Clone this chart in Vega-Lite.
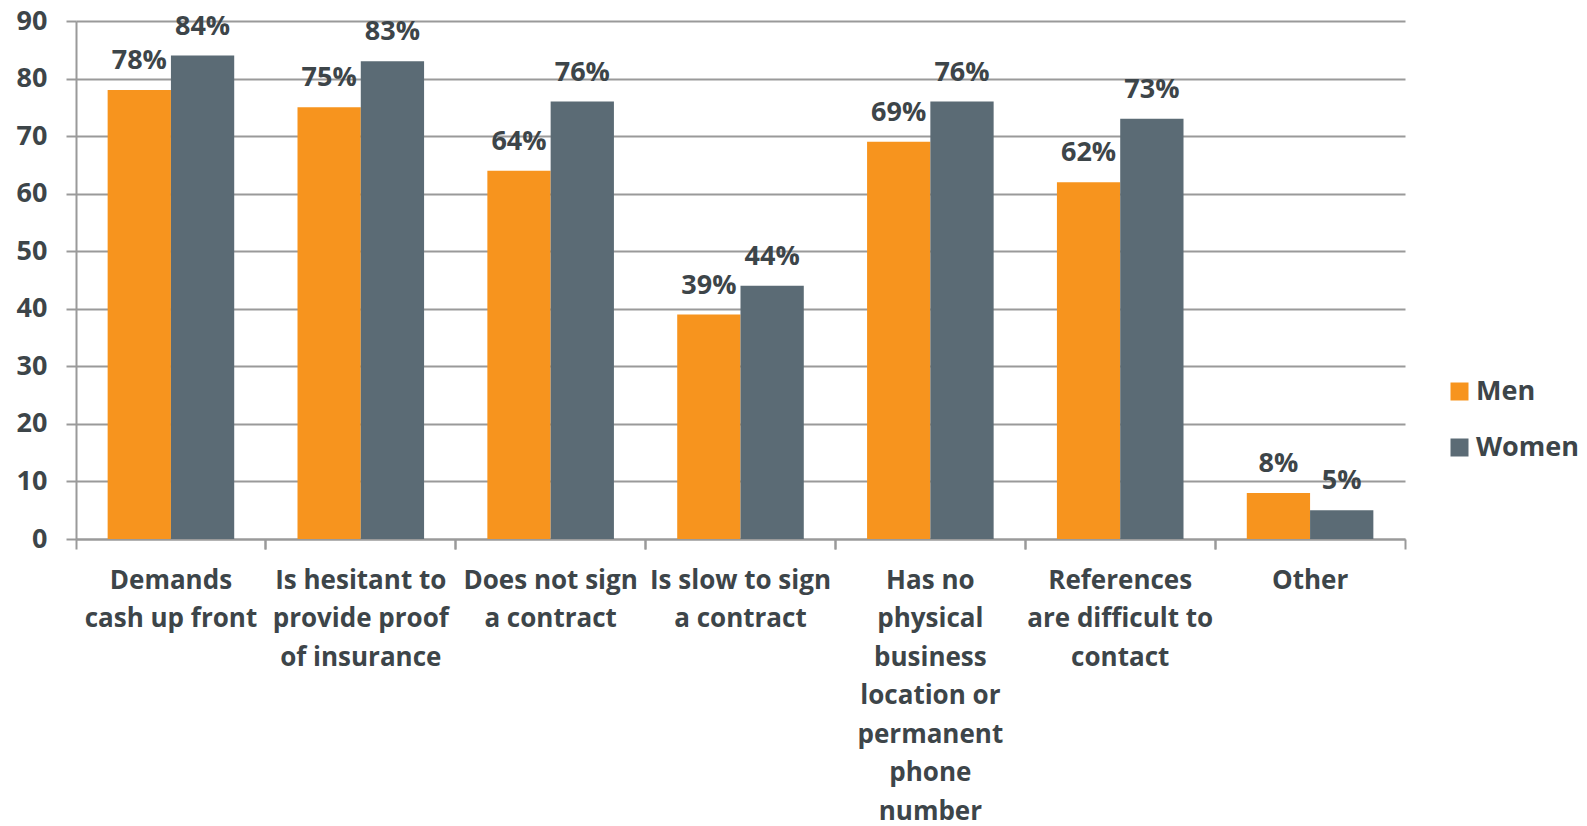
{
  "$schema": "https://vega.github.io/schema/vega-lite/v6.json",
  "width": 1329,
  "height": 518,
  "autosize": "none",
  "padding": {"left": 76, "top": 21, "right": 182, "bottom": 287},
  "background": "white",
  "config": {
    "font": "Open Sans",
    "view": {"stroke": null},
    "axis": {"labelFont": "Open Sans", "labelFontWeight": "bold", "labelColor": "#3d4549"}
  },
  "data": {
    "values": [
      {"category": "Demands|cash up front", "series": "Men", "value": 78},
      {"category": "Demands|cash up front", "series": "Women", "value": 84},
      {"category": "Is hesitant to|provide proof|of insurance", "series": "Men", "value": 75},
      {"category": "Is hesitant to|provide proof|of insurance", "series": "Women", "value": 83},
      {"category": "Does not sign|a contract", "series": "Men", "value": 64},
      {"category": "Does not sign|a contract", "series": "Women", "value": 76},
      {"category": "Is slow to sign|a contract", "series": "Men", "value": 39},
      {"category": "Is slow to sign|a contract", "series": "Women", "value": 44},
      {"category": "Has no|physical|business|location or|permanent|phone|number", "series": "Men", "value": 69},
      {"category": "Has no|physical|business|location or|permanent|phone|number", "series": "Women", "value": 76},
      {"category": "References|are difficult to|contact", "series": "Men", "value": 62},
      {"category": "References|are difficult to|contact", "series": "Women", "value": 73},
      {"category": "Other", "series": "Men", "value": 8},
      {"category": "Other", "series": "Women", "value": 5}
    ]
  },
  "encoding": {
    "x": {
      "field": "category",
      "type": "nominal",
      "sort": null,
      "scale": {"paddingInner": 0, "paddingOuter": 0}
    },
    "xOffset": {
      "field": "series",
      "type": "nominal",
      "scale": {"paddingInner": 0, "paddingOuter": 0.5}
    },
    "y": {
      "field": "value",
      "type": "quantitative",
      "scale": {"domain": [0, 90]}
    }
  },
  "layer": [
    {
      "mark": {"type": "bar"},
      "encoding": {
        "x": {
          "field": "category",
          "type": "nominal",
          "sort": null,
          "title": null,
          "axis": {
            "orient": "bottom",
            "bandPosition": 0,
            "labelExpr": "split(datum.label, '|')",
            "labelAngle": 0,
            "labelAlign": "center",
            "labelBaseline": "top",
            "labelFontSize": 26,
            "labelLineHeight": 38.5,
            "labelPadding": 18,
            "labelOverlap": false,
            "labelBound": false,
            "labelLimit": 0,
            "tickSize": 10,
            "tickWidth": 2,
            "tickColor": "#9a9a9a",
            "domainColor": "#9a9a9a",
            "domainWidth": 2,
            "grid": false
          }
        },
        "y": {
          "field": "value",
          "type": "quantitative",
          "title": null,
          "scale": {"domain": [0, 90]},
          "axis": {
            "values": [0, 10, 20, 30, 40, 50, 60, 70, 80, 90],
            "labelFontSize": 27,
            "labelPadding": 19,
            "tickSize": 10,
            "tickWidth": 2,
            "tickColor": "#9a9a9a",
            "domainColor": "#9a9a9a",
            "domainWidth": 2,
            "grid": true,
            "gridColor": "#9a9a9a",
            "gridWidth": 2
          }
        },
        "color": {
          "field": "series",
          "type": "nominal",
          "title": null,
          "scale": {"domain": ["Men", "Women"], "range": ["#F7941E", "#5B6B75"]},
          "legend": {
            "orient": "none",
            "legendX": 1370,
            "legendY": 357,
            "symbolType": "square",
            "symbolSize": 324,
            "symbolStrokeWidth": 0,
            "labelFont": "Open Sans",
            "labelFontWeight": "bold",
            "labelFontSize": 27,
            "labelColor": "#3d4549",
            "labelOffset": 3,
            "rowPadding": 28
          }
        }
      }
    },
    {
      "mark": {
        "type": "text",
        "baseline": "alphabetic",
        "dy": -21,
        "font": "Open Sans",
        "fontWeight": "bold",
        "fontSize": 27,
        "color": "#3d4549"
      },
      "encoding": {
        "x": {
          "field": "category",
          "type": "nominal",
          "sort": null,
          "title": null,
          "axis": {
            "orient": "bottom",
            "bandPosition": 1,
            "labels": false,
            "domain": false,
            "grid": false,
            "tickSize": 10,
            "tickWidth": 2,
            "tickColor": "#9a9a9a"
          }
        },
        "text": {"field": "pct", "type": "nominal"},
        "detail": {"field": "series", "type": "nominal"}
      },
      "transform": [{"calculate": "datum.value + '%'", "as": "pct"}]
    }
  ],
  "resolve": {"axis": {"x": "independent"}}
}
